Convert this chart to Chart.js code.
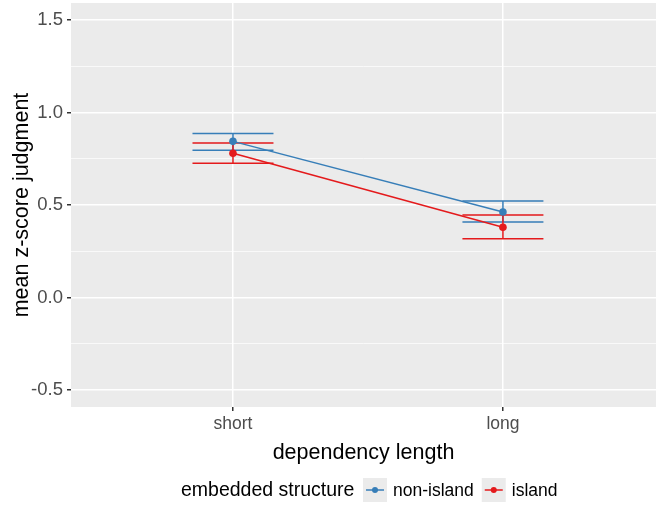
<!DOCTYPE html>
<html>
<head>
<meta charset="utf-8">
<script src="https://cdn.jsdelivr.net/npm/chart.js@4/dist/chart.umd.min.js"></script>
<style>
  body { margin: 0; background: #fff; overflow: hidden; }
  #wrap { width: 656px; height: 505px; position: relative; }
  canvas { display: block; }
</style>
</head>
<body>
<div id="wrap"><canvas id="chart"></canvas></div>
<script>
// values
const categories = ['short', 'long'];
const seriesNames = ['non-island', 'island'];
const nonIslandMean = [0.844, 0.462];
const nonIslandLow = [0.796, 0.408];
const nonIslandHigh = [0.886, 0.522];
const islandMean = [0.780, 0.380];
const islandLow = [0.726, 0.317];
const islandHigh = [0.835, 0.446];
const yTicks = [-0.5, -0.25, 0, 0.25, 0.5, 0.75, 1.0, 1.25, 1.5];

const blue = '#377EB8';
const red = '#E41A1C';
const fontFamily = '"Liberation Sans", Arial, Helvetica, sans-serif';

const toPoints = arr => arr.map((v, i) => ({ x: i + 1, y: v }));
const isMajor = v => Math.abs(v * 2 - Math.round(v * 2)) < 1e-6;

// grey ggplot-like panel
const panelBg = {
    id: 'panelBg',
    beforeDraw(chart) {
        const { ctx, chartArea: a } = chart;
        ctx.save();
        ctx.fillStyle = '#EBEBEB';
        ctx.fillRect(a.left, a.top, a.right - a.left, a.bottom - a.top);
        ctx.restore();
    }
};

// error bars from the low/high arrays
const errorBars = {
    id: 'errorBars',
    beforeDatasetsDraw(chart) {
        const { ctx, scales: { x, y } } = chart;
        ctx.save();
        chart.data.datasets.forEach(ds => {
            ctx.strokeStyle = ds.borderColor;
            ctx.lineWidth = 1.5;
            ds.low.forEach((lo, i) => {
                const hi = ds.high[i];
                const cx = x.getPixelForValue(i + 1);
                const x0 = x.getPixelForValue(i + 1 - 0.15);
                const x1 = x.getPixelForValue(i + 1 + 0.15);
                const yl = y.getPixelForValue(lo);
                const yh = y.getPixelForValue(hi);
                ctx.beginPath();
                ctx.moveTo(cx, yl); ctx.lineTo(cx, yh);
                ctx.moveTo(x0, yl); ctx.lineTo(x1, yl);
                ctx.moveTo(x0, yh); ctx.lineTo(x1, yh);
                ctx.stroke();
            });
        });
        ctx.restore();
    }
};

// legend at the bottom, laid out inline like ggplot
const bottomLegend = {
    id: 'bottomLegend',
    afterDraw(chart) {
        const { ctx } = chart;
        const cy = 490;
        ctx.save();
        ctx.textBaseline = 'middle';
        ctx.fillStyle = '#000';
        ctx.font = '19.5px ' + fontFamily;
        ctx.fillText('embedded structure', 181, cy + 1);
        ctx.font = '17.5px ' + fontFamily;
        let xPos = 363;
        chart.data.datasets.forEach(ds => {
            ctx.fillStyle = '#EBEBEB';
            ctx.fillRect(xPos, cy - 12, 24, 24);
            ctx.strokeStyle = ds.borderColor;
            ctx.lineWidth = 1.5;
            ctx.beginPath();
            ctx.moveTo(xPos + 3, cy); ctx.lineTo(xPos + 21, cy);
            ctx.stroke();
            ctx.fillStyle = ds.borderColor;
            ctx.beginPath();
            ctx.arc(xPos + 12, cy, 3, 0, Math.PI * 2);
            ctx.fill();
            ctx.fillStyle = '#000';
            ctx.fillText(ds.label, xPos + 30, cy + 1);
            xPos += 30 + ctx.measureText(ds.label).width + 8;
        });
        ctx.restore();
    }
};

new Chart(document.getElementById('chart'), {
    type: 'line',
    data: {
        datasets: [
            {
                label: seriesNames[0],
                data: toPoints(nonIslandMean),
                low: nonIslandLow,
                high: nonIslandHigh,
                borderColor: blue,
                backgroundColor: blue,
                borderWidth: 1.5,
                pointRadius: 3.8,
                pointBorderWidth: 0,
                pointHoverRadius: 3.8
            },
            {
                label: seriesNames[1],
                data: toPoints(islandMean),
                low: islandLow,
                high: islandHigh,
                borderColor: red,
                backgroundColor: red,
                borderWidth: 1.5,
                pointRadius: 3.8,
                pointBorderWidth: 0,
                pointHoverRadius: 3.8
            }
        ]
    },
    options: {
        responsive: true,
        maintainAspectRatio: false,
        animation: false,
        layout: { autoPadding: false, padding: { left: 0, top: 3, right: 0, bottom: 35 } },
        plugins: {
            legend: { display: false },
            tooltip: { enabled: false }
        },
        scales: {
            x: {
                type: 'linear',
                min: 0.4,
                max: 2.567,
                afterBuildTicks: s => { s.ticks = categories.map((c, i) => ({ value: i + 1 })); },
                afterFit: s => { s.height = 63; s.paddingLeft = 0; s.paddingRight = 0; },
                border: { display: false },
                grid: { color: '#fff', lineWidth: 1.5, tickColor: '#333', tickLength: 4 },
                ticks: {
                    color: '#4D4D4D',
                    font: { family: fontFamily, size: 17.5 },
                    padding: 3,
                    maxRotation: 0,
                    callback: v => categories[v - 1]
                },
                title: {
                    display: true,
                    text: 'dependency length',
                    color: '#000',
                    font: { family: fontFamily, size: 21.5 },
                    padding: { top: 0, bottom: 4 }
                }
            },
            y: {
                min: -0.592,
                max: 1.592,
                afterBuildTicks: s => { s.ticks = yTicks.map(v => ({ value: v })); },
                afterFit: s => { s.width = 71; s.paddingTop = 0; s.paddingBottom = 0; },
                border: { display: false },
                grid: {
                    color: '#fff',
                    lineWidth: c => (isMajor(c.tick.value) ? 1.5 : 0.7),
                    tickColor: c => (isMajor(c.tick.value) ? '#333' : 'rgba(0,0,0,0)'),
                    tickLength: 4
                },
                ticks: {
                    color: '#4D4D4D',
                    font: { family: fontFamily, size: 18.5 },
                    padding: 4,
                    callback: v => (isMajor(v) ? v.toFixed(1) : '')
                },
                title: {
                    display: true,
                    text: 'mean z-score judgment',
                    color: '#000',
                    font: { family: fontFamily, size: 21.5 },
                    padding: { top: 9, bottom: 0 }
                }
            }
        }
    },
    plugins: [panelBg, errorBars, bottomLegend]
});
</script>
</body>
</html>
